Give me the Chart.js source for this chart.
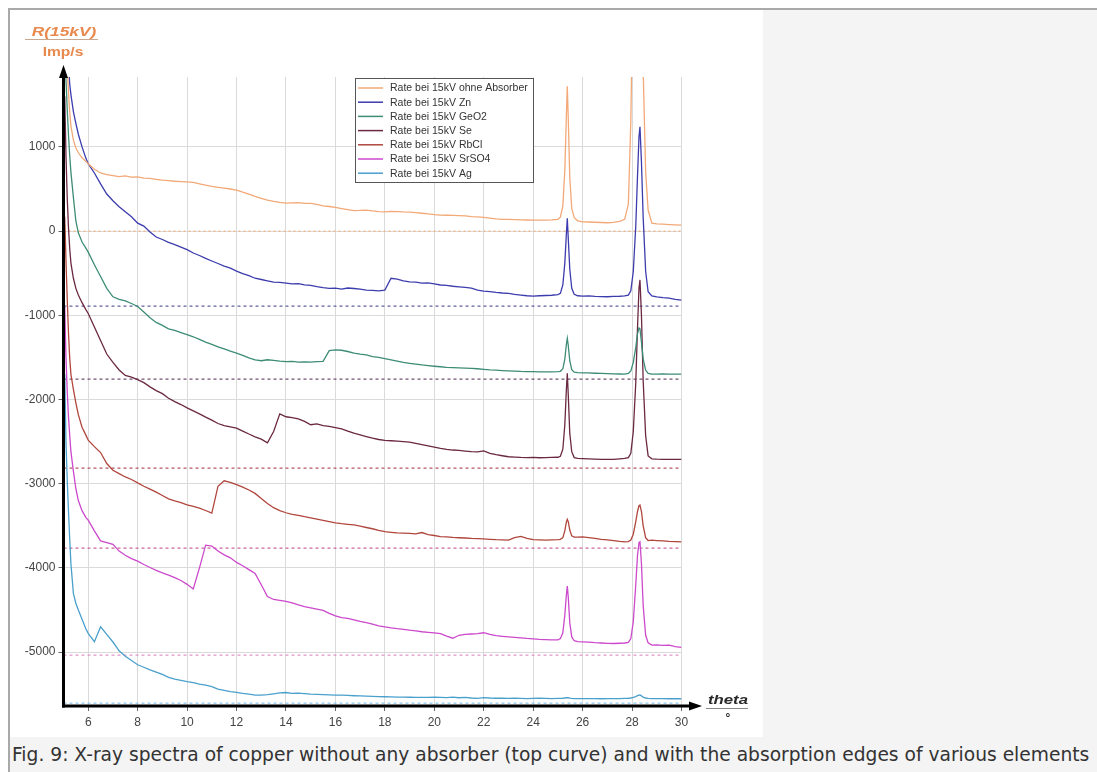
<!DOCTYPE html>
<html><head><meta charset="utf-8">
<script src="https://cdn.jsdelivr.net/npm/chart.js@4/dist/chart.umd.min.js"></script>
<style>
html,body{margin:0;padding:0;background:#fff;width:1097px;height:772px;overflow:hidden;position:relative;font-family:Arial,"Liberation Sans",sans-serif}
#frameTop{position:absolute;left:8px;top:8px;width:1089px;height:2px;background:#a9a9a9}
#frameLeft{position:absolute;left:8px;top:8px;width:2px;height:764px;background:#a9a9a9}
#side{position:absolute;left:763px;top:10px;width:334px;height:727px;background:#f4f4f4}
#capbox{position:absolute;left:10px;top:737px;width:1087px;height:35px;background:#f4f4f4}
#caption{position:absolute;left:12px;top:744px;font-size:18.67px;line-height:22px;font-family:"DejaVu Sans",sans-serif;color:#333;white-space:nowrap}
#plot{position:absolute;left:10px;top:10px;width:753px;height:727px;background:#fff}
.lbl{position:absolute;white-space:nowrap;font-family:Arial,"Liberation Sans",sans-serif;font-weight:bold}
#yt1{left:64px;top:31px;transform:translate(-50%,-50%) scaleX(1.33);font-style:italic;font-size:13px;color:#e8894e}
#yt2{left:63px;top:52px;transform:translate(-50%,-50%) scaleX(1.3);font-size:12px;color:#e8894e}
#ytl{position:absolute;left:25px;top:39px;width:73px;height:1px;background:#c9a890}
#xt1{left:728px;top:699px;transform:translate(-50%,-50%) scaleX(1.29);font-style:italic;font-size:13px;color:#2a2a2a}
#xtl{position:absolute;left:706px;top:708px;width:42px;height:1px;background:#888}
#xt2{left:728px;top:718px;transform:translate(-50%,-50%);font-size:12px;color:#2a2a2a}
</style></head>
<body>
<div id="frameTop"></div><div id="frameLeft"></div>
<div id="side"></div><div id="capbox"></div>
<div id="plot"><canvas id="c" width="753" height="727"></canvas></div>
<div class="lbl" id="yt1">R(15kV)</div><div id="ytl"></div><div class="lbl" id="yt2">Imp/s</div>
<div class="lbl" id="xt1">theta</div><div id="xtl"></div><div class="lbl" id="xt2">°</div>
<div id="caption">Fig. 9: X-ray spectra of copper without any absorber (top curve) and with the absorption edges of various elements</div>
<script>
const theta = [
 5.05,5.1,5.15,5.2,5.25,5.3,5.4,5.5,5.6,5.75,5.9,
 6,6.25,6.5,6.75,7,7.25,7.5,7.75,8,8.25,8.5,8.75,9,9.25,9.5,9.75,10,10.25,10.5,10.75,
 11,11.25,11.5,11.75,12,12.25,12.5,12.75,13,13.25,13.5,13.75,14,14.25,14.5,14.75,15,15.25,15.5,15.75,
 16,16.25,16.5,16.75,17,17.25,17.5,17.75,18,18.25,18.5,18.75,19,19.25,19.5,19.75,20,20.25,20.5,20.75,
 21,21.25,21.5,21.75,22,22.25,22.5,22.75,23,23.25,23.5,23.75,24,24.25,24.5,24.75,
 25,25.1,25.2,25.28,25.34,25.38,25.42,25.48,25.56,25.66,25.8,
 26,26.25,26.5,26.75,27,27.25,27.5,27.7,
 27.85,27.95,28.05,28.15,28.22,28.28,28.32,28.38,28.45,28.55,28.65,28.8,
 29,29.25,29.5,29.75,30
];
const rateOhne = [
 2600,2300,1950,1650,1420,1250,1080,990,930,870,830,
 800,735,690,670,660,648,655,640,645,630,625,615,605,600,592,588,585,578,562,545,
 530,520,510,500,487,462,440,412,390,368,352,340,332,335,338,330,328,318,300,292,
 282,268,255,242,245,250,240,232,229,235,232,228,226,220,212,205,196,190,188,186,
 184,180,173,168,162,155,145,140,138,137,134,132,131,130,131,133,
 140,165,300,720,1350,1720,1330,640,270,160,122,
 110,108,105,102,99,104,115,140,
 320,1300,3200,5000,5500,5200,4500,3200,1900,700,250,95,
 85,82,78,74,71
];
const rateZn = [
 2600,2500,2300,2000,1750,1620,1420,1280,1150,1000,870,
 800,690,560,440,360,290,230,170,95,60,-10,-70,-100,-135,-160,-190,-220,-260,-290,-325,
 -355,-385,-415,-440,-475,-505,-530,-560,-575,-590,-605,-610,-618,-628,-625,-638,-645,-660,-672,-680,
 -678,-688,-676,-682,-690,-700,-705,-710,-700,-560,-570,-590,-602,-605,-618,-615,-628,-640,-645,-655,
 -662,-668,-678,-700,-712,-718,-728,-735,-740,-752,-760,-768,-772,-768,-765,-762,
 -755,-740,-640,-380,-50,151,-90,-450,-680,-750,-768,
 -772,-770,-775,-778,-780,-776,-774,-770,
 -760,-710,-480,60,650,1120,1239,820,160,-480,-720,-770,
 -780,-790,-795,-810,-820
];
const rateGeO2 = [
 2200,1800,1450,1150,900,700,400,120,-20,-130,-200,
 -250,-400,-540,-680,-780,-810,-830,-860,-895,-960,-1030,-1085,-1120,-1160,-1180,-1205,-1230,-1255,-1285,-1318,
 -1345,-1375,-1400,-1425,-1448,-1475,-1505,-1530,-1540,-1528,-1535,-1545,-1550,-1548,-1555,-1552,-1556,-1550,-1548,-1420,
 -1410,-1415,-1430,-1450,-1462,-1470,-1490,-1500,-1515,-1530,-1545,-1560,-1570,-1580,-1590,-1598,-1605,-1611,-1618,-1622,
 -1625,-1628,-1630,-1635,-1642,-1648,-1652,-1656,-1659,-1662,-1666,-1668,-1670,-1671,-1672,-1672,
 -1670,-1665,-1635,-1520,-1350,-1274,-1360,-1540,-1645,-1675,-1682,
 -1683,-1685,-1688,-1690,-1692,-1695,-1697,-1698,
 -1690,-1660,-1560,-1380,-1220,-1150,-1160,-1320,-1520,-1650,-1690,-1698,
 -1698,-1697,-1698,-1699,-1698
];
const rateSe = [
 1600,900,400,50,-200,-380,-560,-680,-760,-850,-930,
 -978,-1140,-1300,-1460,-1560,-1650,-1715,-1735,-1765,-1800,-1850,-1895,-1930,-1985,-2025,-2060,-2100,-2135,-2170,-2210,
 -2245,-2285,-2310,-2325,-2340,-2375,-2410,-2443,-2470,-2515,-2380,-2170,-2205,-2215,-2230,-2260,-2300,-2290,-2310,-2320,
 -2335,-2350,-2375,-2400,-2420,-2440,-2460,-2475,-2485,-2490,-2495,-2500,-2505,-2520,-2535,-2550,-2565,-2580,-2592,-2600,
 -2605,-2612,-2618,-2622,-2610,-2640,-2655,-2668,-2680,-2684,-2688,-2690,-2688,-2692,-2690,-2688,
 -2686,-2675,-2590,-2300,-1900,-1690,-1950,-2400,-2620,-2690,-2700,
 -2702,-2705,-2708,-2710,-2712,-2710,-2705,-2700,
 -2690,-2640,-2380,-1800,-1150,-680,-580,-1000,-1780,-2430,-2670,-2705,
 -2708,-2710,-2712,-2710,-2712
];
const rateRbCl = [
 170,-350,-800,-1200,-1500,-1700,-1880,-2040,-2180,-2330,-2420,
 -2482,-2560,-2630,-2760,-2840,-2880,-2920,-2950,-2990,-3030,-3065,-3100,-3140,-3180,-3205,-3225,-3250,-3270,-3290,-3318,
 -3350,-3030,-2965,-2985,-3010,-3040,-3075,-3115,-3175,-3235,-3285,-3320,-3345,-3365,-3375,-3392,-3405,-3420,-3435,-3450,
 -3465,-3475,-3482,-3490,-3505,-3520,-3535,-3555,-3570,-3578,-3585,-3588,-3590,-3595,-3580,-3605,-3615,-3628,-3632,-3638,
 -3642,-3645,-3650,-3652,-3655,-3660,-3665,-3668,-3670,-3640,-3625,-3650,-3665,-3668,-3670,-3668,
 -3665,-3660,-3640,-3560,-3460,-3424,-3450,-3550,-3620,-3635,-3635,
 -3632,-3640,-3650,-3660,-3668,-3675,-3685,-3690,
 -3688,-3670,-3600,-3450,-3330,-3262,-3254,-3330,-3500,-3640,-3675,-3670,
 -3675,-3680,-3685,-3688,-3690
];
const rateSrSO4 = [
 -900,-1500,-1900,-2200,-2420,-2620,-2850,-3060,-3200,-3320,-3400,
 -3432,-3560,-3680,-3700,-3720,-3800,-3850,-3890,-3920,-3960,-3995,-4030,-4060,-4085,-4115,-4150,-4195,-4250,-4000,-3730,
 -3740,-3800,-3845,-3880,-3935,-3975,-4020,-4065,-4200,-4340,-4375,-4385,-4398,-4415,-4440,-4460,-4475,-4490,-4505,-4540,
 -4570,-4590,-4600,-4618,-4635,-4650,-4668,-4688,-4700,-4712,-4722,-4730,-4740,-4748,-4758,-4765,-4772,-4780,-4810,-4835,
 -4800,-4790,-4785,-4780,-4770,-4790,-4805,-4812,-4818,-4825,-4832,-4838,-4842,-4848,-4852,-4855,
 -4855,-4840,-4770,-4560,-4330,-4216,-4350,-4650,-4820,-4865,-4875,
 -4878,-4882,-4888,-4892,-4897,-4898,-4895,-4892,
 -4885,-4840,-4640,-4200,-3850,-3700,-3690,-3950,-4450,-4800,-4890,-4917,
 -4915,-4920,-4918,-4935,-4945
];
const rateAg = [
 -1700,-2500,-2950,-3313,-3650,-3950,-4303,-4420,-4500,-4610,-4720,
 -4778,-4877,-4700,-4790,-4880,-4985,-5050,-5100,-5150,-5180,-5210,-5238,-5265,-5300,-5320,-5335,-5350,-5362,-5380,-5393,
 -5410,-5440,-5455,-5470,-5478,-5490,-5500,-5510,-5512,-5505,-5495,-5485,-5480,-5490,-5488,-5492,-5498,-5502,-5505,-5508,
 -5510,-5512,-5515,-5518,-5520,-5522,-5525,-5528,-5530,-5532,-5535,-5535,-5536,-5537,-5538,-5538,-5535,-5538,-5540,-5535,
 -5542,-5538,-5545,-5550,-5540,-5545,-5548,-5548,-5550,-5548,-5550,-5552,-5550,-5548,-5550,-5552,
 -5550,-5550,-5548,-5545,-5542,-5540,-5542,-5546,-5550,-5552,-5552,
 -5552,-5553,-5552,-5554,-5552,-5553,-5552,-5550,
 -5548,-5545,-5538,-5528,-5518,-5512,-5510,-5520,-5535,-5545,-5550,-5552,
 -5552,-5553,-5554,-5553,-5554
];
const seriesLabels = ['Rate bei 15kV ohne Absorber','Rate bei 15kV Zn','Rate bei 15kV GeO2','Rate bei 15kV Se','Rate bei 15kV RbCl','Rate bei 15kV SrSO4','Rate bei 15kV Ag'];
const seriesColors = ['#f2a977','#3c3cae','#3d8c76','#6a2842','#b0463c','#cc48cc','#4aa0cc'];
const seriesValues = [rateOhne, rateZn, rateGeO2, rateSe, rateRbCl, rateSrSO4, rateAg];
const baselineValues = [0,-891,-1758,-2815,-3765,-5036,-5606];
const baselineColors = ['#f2b27e','#5a5a9a','#6a4a6a','#b05060','#c8609a','#e090c8','#8cc8e8'];
const xTicks = [6,8,10,12,14,16,18,20,22,24,26,28,30];
const yTicks = [-5000,-4000,-3000,-2000,-1000,0,1000];

Chart.defaults.font.family = 'Arial, "Liberation Sans", sans-serif';

const datasets = seriesValues.map((vals,i)=>({
  label: seriesLabels[i],
  data: theta.map((t,k)=>({x:t,y:vals[k]})),
  borderColor: seriesColors[i], backgroundColor: seriesColors[i],
  borderWidth: 1.3, pointRadius: 0, tension: 0, fill:false
}));
baselineValues.forEach((v,i)=>datasets.push({
  label:'baseline'+i, isBaseline:true,
  data:[{x:5,y:v},{x:30,y:v}],
  borderColor: baselineColors[i], borderWidth:1.2, borderDash: i===0?[2,3]:[3,3],
  pointRadius:0, fill:false
}));

const overlay = {
  id:'overlay',
  afterDraw(chart){
    const ctx = chart.ctx, a = chart.chartArea;
    ctx.save();
    ctx.strokeStyle='#000'; ctx.lineWidth=3; ctx.lineCap='butt';
    ctx.beginPath(); ctx.moveTo(a.left, a.bottom+1.5); ctx.lineTo(a.left, 64); ctx.stroke();
    ctx.beginPath(); ctx.moveTo(a.left-1.5, a.bottom); ctx.lineTo(682, a.bottom); ctx.stroke();
    ctx.fillStyle='#000';
    ctx.beginPath(); ctx.moveTo(a.left,55); ctx.lineTo(a.left-4.5,68); ctx.lineTo(a.left+4.5,68); ctx.closePath(); ctx.fill();
    ctx.beginPath(); ctx.moveTo(692,a.bottom); ctx.lineTo(679,a.bottom-4.5); ctx.lineTo(679,a.bottom+4.5); ctx.closePath(); ctx.fill();
    const lx=345.5, ly=68.5, lw=178, lh=104;
    ctx.fillStyle='#fff'; ctx.fillRect(lx,ly,lw,lh);
    ctx.strokeStyle='#555'; ctx.lineWidth=1; ctx.strokeRect(lx,ly,lw,lh);
    ctx.font='10.5px Arial, "Liberation Sans", sans-serif';
    ctx.textBaseline='middle';
    chart.data.datasets.filter(d=>!d.isBaseline).forEach((d,i)=>{
      const y = 78 + i*14.2;
      ctx.strokeStyle=d.borderColor; ctx.lineWidth=1.5;
      ctx.beginPath(); ctx.moveTo(348,y); ctx.lineTo(373,y); ctx.stroke();
      ctx.fillStyle='#333'; ctx.fillText(d.label, 380, y+0.5);
    });
    ctx.restore();
  }
};

new Chart(document.getElementById('c'), {
  type:'line',
  data:{datasets},
  options:{
    responsive:false, animation:false, devicePixelRatio:1,
    layout:{padding:{left:0,top:67,right:81.5,bottom:0}},
    plugins:{legend:{display:false}, tooltip:{enabled:false}},
    scales:{
      x:{type:'linear', min:5, max:30,
        afterBuildTicks:s=>{s.ticks = xTicks.map(v=>({value:v}));},
        afterFit:s=>{s.height=31;},
        ticks:{autoSkip:false, maxRotation:0, padding:4, color:'#444', font:{size:12}, callback:v=>String(v)},
        grid:{color:'#dadada', tickColor:'#666', tickLength:5},
        border:{display:false}},
      y:{type:'linear', min:-5640, max:1830,
        afterBuildTicks:s=>{s.ticks = yTicks.map(v=>({value:v}));},
        afterFit:s=>{s.width=53.5;},
        ticks:{padding:3, color:'#444', font:{size:12}, callback:v=>String(v)},
        grid:{color:'#dadada', tickColor:'#666', tickLength:5},
        border:{display:false}}
    }
  },
  plugins:[overlay]
});
</script>
</body></html>
